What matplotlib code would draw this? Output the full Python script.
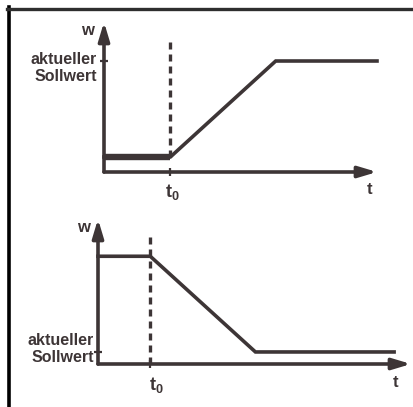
import matplotlib.pyplot as plt
from matplotlib.lines import Line2D

W, H = 414, 407          # Bildgroesse in Pixel
PT = 0.72                # 1 px in Punkt (dpi 100)
ink = '#3d3536'

plt.rcParams['font.family'] = ['Liberation Sans', 'DejaVu Sans']
plt.rcParams['font.weight'] = 'bold'
plt.rcParams['mathtext.fontset'] = 'custom'
plt.rcParams['mathtext.bf'] = 'Liberation Sans:bold'
plt.rcParams['mathtext.rm'] = 'Liberation Sans:bold'

# Oberes Diagramm: Sollwert steigt ab t0 rampenfoermig
t_oben = [0, 2.43, 6.29, 10.0]
w_oben = [1.0, 1.0, 7.4, 7.4]
t0_oben = 2.43
soll_oben = 7.4
dash_oben = (1.0, 8.7)

# Unteres Diagramm: Sollwert faellt ab t0 rampenfoermig
t_unten = [0, 1.67, 5.03, 9.46]
w_unten = [7.43, 7.43, 0.83, 0.83]
t0_unten = 1.67
soll_unten = 0.83
dash_unten = (0.0, 8.8)

soll_text = 'aktueller\nSollwert'


def px_axes(fig, l, r, b, t):
    # Achsen ueber Pixelkanten platzieren (y von oben gezaehlt)
    return fig.add_axes([l / W, 1 - b / H, (r - l) / W, (b - t) / H])


def panel(ax, t, w, t0, soll, dash, text_off, w_off, t_off, t0_off, dick_anfang):
    ax.set_xlim(0, 10)
    ax.set_ylim(0, 10)
    ax.patch.set_alpha(0)
    for s in ax.spines.values():
        s.set_visible(False)
    ax.set_xticks([t0])
    ax.set_yticks([soll])
    ax.tick_params(direction='inout', length=6, width=1.6, color=ink,
                   labelleft=False, labelbottom=False)

    # Achsen mit Pfeilspitzen
    pfeil = dict(arrowstyle='-|>,head_length=1.1,head_width=0.33',
                 mutation_scale=10, lw=2.6, color=ink, shrinkA=0, shrinkB=0)
    ax.annotate('', xy=(1, 0), xytext=(0, 0), xycoords='axes fraction',
                arrowprops=pfeil)
    ax.annotate('', xy=(0, 1), xytext=(0, 0), xycoords='axes fraction',
                arrowprops=pfeil)

    # Sollwertverlauf
    ax.plot(t, w, color=ink, lw=2.6, solid_joinstyle='miter', clip_on=False)
    if dick_anfang:
        ax.plot(t[:2], w[:2], color=ink, lw=4.6, solid_capstyle='butt', clip_on=False)

    # t0 gestrichelt
    ax.plot([t0, t0], dash, color=ink, lw=2.4, ls=(0, (2.1, 1.5)), clip_on=False)

    # Beschriftungen
    ax.annotate(soll_text, xy=(0, soll), xycoords=('axes fraction', 'data'),
                xytext=(text_off[0] * PT, text_off[1] * PT), textcoords='offset points',
                ha='right', va='top', fontsize=11.5, color=ink, linespacing=1.15)
    ax.annotate('w', xy=(0, 1), xycoords='axes fraction',
                xytext=(w_off[0] * PT, w_off[1] * PT), textcoords='offset points',
                ha='center', va='center', fontsize=12, color=ink)
    ax.annotate('t', xy=(1, 0), xycoords='axes fraction',
                xytext=(t_off[0] * PT, t_off[1] * PT), textcoords='offset points',
                ha='center', va='top', fontsize=12, color=ink)
    ax.annotate(r'$\mathbf{t_0}$', xy=(t0, 0), xycoords=('data', 'axes fraction'),
                xytext=(t0_off[0] * PT, t0_off[1] * PT), textcoords='offset points',
                ha='center', va='top', fontsize=13, color=ink)


fig = plt.figure(figsize=(W / 100, H / 100), dpi=100)

ax1 = px_axes(fig, 104, 377, 172, 22)
panel(ax1, t_oben, w_oben, t0_oben, soll_oben, dash_oben,
      text_off=(-7, 9), w_off=(-17, -9), t_off=(-7, -10), t0_off=(2, -10),
      dick_anfang=True)

ax2 = px_axes(fig, 98, 411, 364, 219)
panel(ax2, t_unten, w_unten, t0_unten, soll_unten, dash_unten,
      text_off=(-4, 19), w_off=(-15, -9), t_off=(-15, -11), t0_off=(6, -11),
      dick_anfang=False)

# Rahmen links und oben
fig.add_artist(Line2D([8.5 / W, 8.5 / W], [0, 1 - 7 / H], color='black', lw=2.6))
fig.add_artist(Line2D([7 / W, 1], [1 - 9 / H, 1 - 9 / H], color='#2e2e2e', lw=2.4))

fig.savefig('out.png', dpi=100)
